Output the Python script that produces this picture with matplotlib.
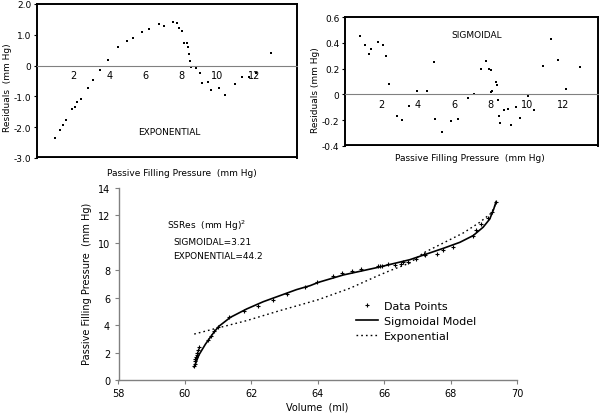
import matplotlib
matplotlib.use("Agg")
import matplotlib.pyplot as plt
from matplotlib.lines import Line2D

plt.rcParams['font.family'] = ['DejaVu Sans']

# ---------------- data ----------------
# Exponential residuals (pressure, residual)
exp_p = [0.98, 1.26, 1.44, 1.59, 1.96, 2.09, 2.24, 2.41, 2.83, 3.11, 3.48, 3.91,
         4.50, 4.96, 5.30, 5.83, 6.20, 6.76, 7.06, 7.52, 7.78, 7.87, 8.04, 8.13,
         8.30, 8.39, 8.44, 8.46, 8.54, 8.81, 9.00, 9.13, 9.46, 9.63, 10.06, 10.43,
         10.94, 11.33, 11.72, 12.15, 12.96]
exp_r = [-2.35, -2.10, -1.93, -1.77, -1.42, -1.34, -1.18, -1.07, -0.72, -0.47, -0.14, 0.18,
         0.62, 0.79, 0.90, 1.10, 1.18, 1.34, 1.30, 1.40, 1.38, 1.22, 1.11, 0.73,
         0.75, 0.62, 0.38, 0.15, -0.03, -0.07, -0.23, -0.55, -0.53, -0.78, -0.73, -0.95,
         -0.61, -0.38, -0.38, -0.24, 0.40]

# Sigmoidal residuals (pressure, residual)
sig_p = [0.85, 1.12, 1.31, 1.45, 1.80, 2.09, 2.27, 2.40, 2.86, 3.13, 3.52, 3.93,
         4.50, 4.87, 4.96, 5.33, 5.82, 6.19, 6.75, 7.06, 7.48, 7.74, 7.89, 8.01,
         8.03, 8.07, 8.29, 8.36, 8.42, 8.44, 8.53, 8.75, 8.98, 9.11, 9.40, 9.59,
         10.03, 10.41, 10.90, 11.31, 11.69, 12.15, 12.91]
sig_r = [0.45, 0.38, 0.31, 0.35, 0.41, 0.38, 0.30, 0.08, -0.17, -0.20, -0.09, 0.026,
         0.03, 0.25, -0.19, -0.29, -0.21, -0.19, -0.026, 0.0, 0.20, 0.26, 0.20, 0.19,
         0.02, 0.03, 0.10, 0.07, -0.04, -0.165, -0.225, -0.12, -0.115, -0.24, -0.095, -0.186,
         -0.013, -0.124, 0.217, 0.43, 0.27, 0.04, 0.21]

# Pressure-volume data points
vol = [60.27, 60.29, 60.30, 60.31, 60.33, 60.35, 60.37, 60.40, 60.43, 60.69, 60.79,
       60.89, 60.99, 61.32, 61.77, 62.19, 62.64, 63.06, 63.62, 63.99, 64.45, 64.74,
       65.04, 65.29, 65.82, 65.88, 65.94, 66.12, 66.32, 66.50, 66.58, 66.73, 66.95,
       67.20, 67.24, 67.58, 67.78, 68.08, 68.68, 68.78, 68.93, 69.13, 69.25, 69.36]
pres = [1.00, 1.20, 1.35, 1.50, 1.70, 1.85, 2.00, 2.20, 2.38, 2.94, 3.19,
        3.60, 3.84, 4.57, 5.03, 5.37, 5.86, 6.27, 6.80, 7.12, 7.56, 7.80,
        7.95, 8.10, 8.29, 8.34, 8.31, 8.46, 8.41, 8.46, 8.58, 8.63, 8.82,
        9.17, 9.10, 9.17, 9.50, 9.68, 10.48, 10.92, 11.38, 11.79, 12.23, 13.00]

# Sigmoidal model curve
sig_v = [60.28, 60.42, 60.62, 60.87, 61.02, 61.37, 61.86, 62.36, 62.86, 63.36, 63.77,
         64.02, 64.77, 65.77, 66.77, 67.22, 67.78, 68.28, 68.68, 68.98, 69.18, 69.30, 69.37]
sig_c = [0.95, 1.82, 2.62, 3.47, 3.91, 4.57, 5.18, 5.71, 6.15, 6.59, 6.88,
         7.12, 7.66, 8.19, 8.77, 9.14, 9.60, 10.04, 10.53, 11.14, 11.74, 12.47, 13.0]

# Exponential model curve
ex_v = [60.28, 60.87, 61.86, 62.86, 63.46, 64.02, 64.97, 65.77, 66.17, 66.77, 67.18,
        67.78, 68.38, 68.88, 69.23, 69.36]
ex_c = [3.35, 3.72, 4.33, 5.06, 5.47, 5.86, 6.69, 7.56, 7.97, 8.53, 9.26,
        9.99, 10.72, 11.50, 12.18, 12.84]

# ---------------- figure ----------------
W, H = 600, 414
fig = plt.figure(figsize=(6.0, 4.14), dpi=100)

def box(l, t, r, b):
    return [l / W, 1 - b / H, (r - l) / W, (b - t) / H]

FS = 6.5

def residual_axes(rect, x, y, ylim, yticks, ylabels, xlim, title, tpos):
    ax = fig.add_axes(rect)
    ax.scatter(x, y, s=2.5, color='black', marker='s', linewidths=0)
    ax.set_ylim(*ylim)
    ax.set_xlim(*xlim)
    ax.set_yticks(yticks)
    ax.set_yticklabels(ylabels, fontsize=FS)
    ax.tick_params(axis='y', length=2, pad=2)
    for s in ['top', 'left', 'right']:
        ax.spines[s].set_linewidth(1.4)
        ax.spines[s].set_color('black')
    # bottom spine becomes the zero line, tick labels hang below it
    ax.spines['bottom'].set_position(('data', 0))
    ax.spines['bottom'].set_color('#808080')
    ax.spines['bottom'].set_linewidth(0.8)
    ax.set_xticks([2, 4, 6, 8, 10, 12])
    ax.set_xticklabels(['2', '4', '6', '8', '10', '12'], fontsize=FS + 0.5)
    ax.tick_params(axis='x', length=0, pad=3)
    # box bottom edge
    ax.axhline(ylim[0], color='black', lw=2.8, clip_on=True)
    ax.text(tpos[0], tpos[1], title, transform=ax.transAxes, fontsize=FS,
            ha='center', va='center')
    return ax

ax1 = residual_axes(box(37, 5, 297, 159), exp_p, exp_r, (-3, 2),
                    [-3, -2, -1, 0, 1, 2], ['-3.0', '-2.0', '-1.0', '0', '1.0', '2.0'],
                    (0, 14.4), 'EXPONENTIAL', (0.508, 0.175))
fig.text(182 / W, 1 - 173 / H, 'Passive Filling Pressure  (mm Hg)', fontsize=FS,
         ha='center', va='center')
fig.text(8 / W, 1 - 88 / H, 'Residuals  (mm Hg)', fontsize=FS, rotation=90,
         ha='center', va='center')

ax2 = residual_axes(box(345, 18, 598, 147), sig_p, sig_r, (-0.4, 0.6),
                    [-0.4, -0.2, 0, 0.2, 0.4, 0.6], ['-0.4', '-0.2', '0', '0.2', '0.4', '0.6'],
                    (0, 13.9), 'SIGMOIDAL', (0.52, 0.868))
fig.text(470 / W, 1 - 159 / H, 'Passive Filling Pressure  (mm Hg)', fontsize=FS,
         ha='center', va='center')
fig.text(315 / W, 1 - 90 / H, 'Residuals (mm Hg)', fontsize=FS, rotation=90,
         ha='center', va='center')

# bottom panel
ax3 = fig.add_axes(box(118.5, 189, 517, 381))
ax3.plot(ex_v, ex_c, color='black', lw=1.0, ls=(0, (1.2, 2.2)))
ax3.plot(sig_v, sig_c, color='black', lw=1.2)
ax3.scatter(vol, pres, s=5, color='black', marker='+', linewidths=0.8, zorder=3)
ax3.set_xlim(58, 70)
ax3.set_ylim(0, 14)
ax3.set_xticks([58, 60, 62, 64, 66, 68, 70])
ax3.set_yticks([0, 2, 4, 6, 8, 10, 12, 14])
ax3.tick_params(labelsize=FS + 0.5, length=3, color='#808080', pad=3)
for s in ['top', 'right']:
    ax3.spines[s].set_visible(False)
for s in ['left', 'bottom']:
    ax3.spines[s].set_color('#808080')
    ax3.spines[s].set_linewidth(1.0)
fig.text(317 / W, 1 - 408 / H, 'Volume  (ml)', fontsize=FS + 0.5, ha='center', va='center')
fig.text(87 / W, 1 - 284 / H, 'Passive Filling Pressure  (mm Hg)', fontsize=FS + 0.5,
         rotation=90, ha='center', va='center')

ax3.text(59.46, 11.3, 'SSRes  (mm Hg)$^2$', fontsize=FS, ha='left', va='center')
ax3.text(59.64, 10.07, 'SIGMOIDAL=3.21', fontsize=FS, ha='left', va='center')
ax3.text(59.64, 9.05, 'EXPONENTIAL=44.2', fontsize=FS, ha='left', va='center')

handles = [
    Line2D([], [], color='black', marker='+', ms=3, lw=0, mew=0.8),
    Line2D([], [], color='black', lw=1.2),
    Line2D([], [], color='black', lw=1.0, ls=(0, (1.2, 2.2))),
]
ax3.legend(handles, ['Data Points', 'Sigmoidal Model', 'Exponential'],
           loc='upper left', bbox_to_anchor=((356 - 118.5) / 398.5, (381 - 302) / 192),
           frameon=False, fontsize=8, handlelength=2.0, handletextpad=0.5,
           labelspacing=0.45, borderaxespad=0, borderpad=0)

fig.savefig('out.png', dpi=100)
